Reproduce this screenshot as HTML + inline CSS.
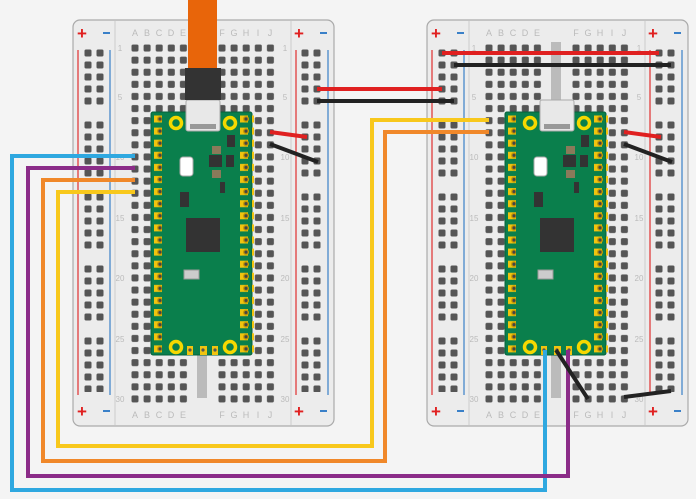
<!DOCTYPE html>
<html><head><style>html,body{margin:0;padding:0;background:#f4f4f4}svg{display:block}</style></head><body>
<svg width="696" height="499" viewBox="0 0 696 499" xmlns="http://www.w3.org/2000/svg" font-family="Liberation Sans, sans-serif">
<defs>
<pattern id="mh" patternUnits="userSpaceOnUse" x="129" y="42" width="12.1" height="12.1"><rect x="2.5" y="2.5" width="7" height="7" rx="1.5" fill="#555"/></pattern>
<pattern id="mh2" patternUnits="userSpaceOnUse" x="216" y="42" width="12.1" height="12.1"><rect x="2.5" y="2.5" width="7" height="7" rx="1.5" fill="#555"/></pattern>
<pattern id="rh" patternUnits="userSpaceOnUse" x="82" y="47" width="12" height="72"><rect x="2.5" y="2.5" width="7" height="7" rx="1.5" fill="#555"/><rect x="2.5" y="14.5" width="7" height="7" rx="1.5" fill="#555"/><rect x="2.5" y="26.5" width="7" height="7" rx="1.5" fill="#555"/><rect x="2.5" y="38.5" width="7" height="7" rx="1.5" fill="#555"/><rect x="2.5" y="50.5" width="7" height="7" rx="1.5" fill="#555"/></pattern>
<pattern id="rh2" patternUnits="userSpaceOnUse" x="299" y="47" width="12" height="72"><rect x="2.5" y="2.5" width="7" height="7" rx="1.5" fill="#555"/><rect x="2.5" y="14.5" width="7" height="7" rx="1.5" fill="#555"/><rect x="2.5" y="26.5" width="7" height="7" rx="1.5" fill="#555"/><rect x="2.5" y="38.5" width="7" height="7" rx="1.5" fill="#555"/><rect x="2.5" y="50.5" width="7" height="7" rx="1.5" fill="#555"/></pattern>
<pattern id="pl" patternUnits="userSpaceOnUse" x="150" y="113" width="12" height="12.1"><rect x="4" y="2.5" width="8" height="7" fill="#f1c40f"/><circle cx="10" cy="6" r="3" fill="#c99a00"/><circle cx="10" cy="6" r="1.6" fill="#444"/></pattern>
<pattern id="pr" patternUnits="userSpaceOnUse" x="240" y="113" width="12" height="12.1"><rect x="0" y="2.5" width="8" height="7" fill="#f1c40f"/><circle cx="6" cy="6" r="3" fill="#c99a00"/><circle cx="6" cy="6" r="1.6" fill="#444"/></pattern>
<g id="board">
<rect x="73" y="20" width="261" height="406" rx="7" fill="#ececec" stroke="#aaa" stroke-width="1.2"/>
<line x1="115" y1="21" x2="115" y2="425" stroke="#ccc"/>
<line x1="291" y1="21" x2="291" y2="425" stroke="#ccc"/>
<line x1="78" y1="50" x2="78" y2="395" stroke="#e03030" stroke-width="1.2"/>
<line x1="110" y1="50" x2="110" y2="395" stroke="#3a80c8" stroke-width="1.2"/>
<line x1="296" y1="50" x2="296" y2="395" stroke="#e03030" stroke-width="1.2"/>
<line x1="328" y1="50" x2="328" y2="395" stroke="#3a80c8" stroke-width="1.2"/>
<rect x="82" y="47" width="24" height="345" fill="url(#rh)"/>
<rect x="299" y="47" width="24" height="345" fill="url(#rh2)"/>
<rect x="129" y="42" width="60.5" height="363" fill="url(#mh)"/>
<rect x="216" y="42" width="60.5" height="363" fill="url(#mh2)"/>
<rect x="197" y="42" width="10" height="356" fill="#bbb"/>
<g fill="#e02020" font-size="17" font-weight="bold"><text x="77" y="39">+</text><text x="294" y="39">+</text><text x="77" y="417">+</text><text x="294" y="417">+</text></g>
<g stroke="#3a80c8" stroke-width="2"><line x1="103" y1="33" x2="110" y2="33"/><line x1="320" y1="33" x2="327" y2="33"/><line x1="103" y1="411" x2="110" y2="411"/><line x1="320" y1="411" x2="327" y2="411"/></g>
<g fill="#bbb" font-size="9" text-anchor="middle"><text x="135" y="36">A</text><text x="147" y="36">B</text><text x="159" y="36">C</text><text x="171" y="36">D</text><text x="183" y="36">E</text><text x="222" y="36">F</text><text x="234" y="36">G</text><text x="246" y="36">H</text><text x="258" y="36">I</text><text x="270" y="36">J</text>
<text x="135" y="418">A</text><text x="147" y="418">B</text><text x="159" y="418">C</text><text x="171" y="418">D</text><text x="183" y="418">E</text><text x="222" y="418">F</text><text x="234" y="418">G</text><text x="246" y="418">H</text><text x="258" y="418">I</text><text x="270" y="418">J</text></g>
<g fill="#bbb" font-size="8" text-anchor="middle"><text x="120" y="51">1</text><text x="120" y="100">5</text><text x="120" y="160">10</text><text x="120" y="221">15</text><text x="120" y="281">20</text><text x="120" y="342">25</text><text x="120" y="402">30</text>
<text x="285" y="51">1</text><text x="285" y="100">5</text><text x="285" y="160">10</text><text x="285" y="221">15</text><text x="285" y="281">20</text><text x="285" y="342">25</text><text x="285" y="402">30</text></g>
</g>
<g id="pico">
<rect x="151" y="112" width="101" height="243" rx="2" fill="#0a7f4c" stroke="#06603a"/>
<rect x="150" y="113" width="14" height="242" fill="url(#pl)"/>
<rect x="240" y="113" width="14" height="242" fill="url(#pr)"/>
<circle cx="176" cy="123" r="5.5" fill="none" stroke="#f5d800" stroke-width="3.5"/>
<circle cx="230" cy="123" r="5.5" fill="none" stroke="#f5d800" stroke-width="3.5"/>
<circle cx="176" cy="347" r="5.5" fill="none" stroke="#f5d800" stroke-width="3.5"/>
<circle cx="230" cy="347" r="5.5" fill="none" stroke="#f5d800" stroke-width="3.5"/>
<rect x="186" y="100" width="34" height="31" rx="2" fill="#e8e8e8" stroke="#aaa"/>
<rect x="190" y="124" width="26" height="5" fill="#999"/>
<rect x="180" y="157" width="13" height="19" rx="3" fill="#fff" stroke="#aaa"/>
<rect x="212" y="146" width="9" height="8" fill="#8a7a5a"/><rect x="212" y="170" width="9" height="8" fill="#8a7a5a"/>
<rect x="209" y="155" width="13" height="12" fill="#333"/><rect x="226" y="155" width="8" height="12" fill="#333"/>
<rect x="227" y="135" width="8" height="12" fill="#333"/><rect x="220" y="182" width="5" height="11" fill="#333"/>
<rect x="180" y="192" width="9" height="15" fill="#333"/>
<rect x="186" y="218" width="34" height="34" fill="#333"/>
<rect x="184" y="270" width="15" height="9" fill="#ccc" stroke="#999"/>
<g fill="#f1c40f"><rect x="187" y="346" width="6" height="9"/><rect x="200" y="346" width="7" height="9"/><rect x="212" y="346" width="6" height="9"/></g>
<g fill="#555"><circle cx="190" cy="350" r="1.6"/><circle cx="203" cy="350" r="1.6"/><circle cx="215" cy="350" r="1.6"/></g>
</g>
</defs>
<use href="#board"/>
<use href="#board" x="354"/>
<use href="#pico"/>
<use href="#pico" x="354"/>
<rect x="185" y="68" width="36" height="32" fill="#333"/>
<rect x="188" y="0" width="29" height="68" fill="#e8650a"/>
<g fill="none" stroke-width="4" stroke-linejoin="miter">
<polyline points="135,156 12,156 12,490 545,490 545,350" stroke="#2fa8e0"/>
<polyline points="135,168 28,168 28,476 568,476 568,350" stroke="#8b2c88"/>
<polyline points="135,180 43,180 43,461 385,461 385,132 489,132" stroke="#f0882a"/>
<polyline points="135,192 58,192 58,446 372,446 372,120 489,120" stroke="#f8c81c"/>
<polyline points="317,89 442,89" stroke="#e02020"/>
<polyline points="317,101 454,101" stroke="#222"/>
<polyline points="442,53 659,53" stroke="#e02020"/>
<polyline points="454,65 671,65" stroke="#222"/>
<polyline points="270,132 307,137" stroke="#e02020"/>
<polyline points="270,144 318,162" stroke="#222"/>
<polyline points="624,132 661,137" stroke="#e02020"/>
<polyline points="624,144 672,162" stroke="#222"/>
<polyline points="556,350 588,399" stroke="#222"/>
<polyline points="624,397 671,391" stroke="#222"/>
</g>
</svg>
</body></html>
